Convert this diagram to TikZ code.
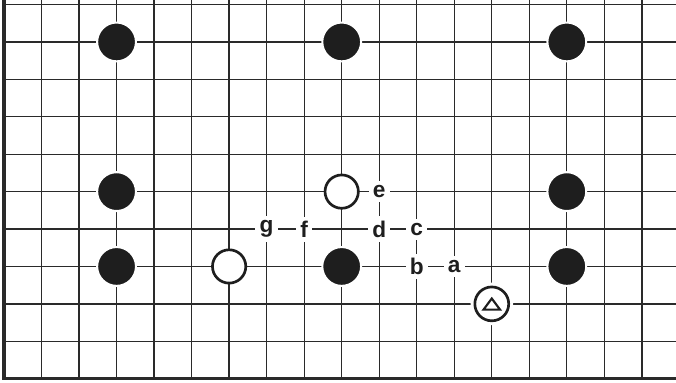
\documentclass[tikz,border=0pt]{standalone}
\usepackage{fontspec}
\setmainfont{Liberation Sans}
\definecolor{ink}{HTML}{2A2A2A}
\definecolor{stonecol}{HTML}{1E1E1E}
\begin{document}
\begin{tikzpicture}[x=28.14pt,y=-28.065pt,
  gridline/.style={draw=ink,line width=0.95pt},
  border/.style={draw=ink,line width=2.3pt,line join=miter},
  bstone/.style={circle,inner sep=0pt,minimum size=29.1pt,fill=stonecol,draw=white,line width=1.5pt},
  wstone/.style={circle,inner sep=0pt,minimum size=25pt,fill=white,draw=stonecol,line width=2pt},
  tstone/.style={circle,inner sep=0pt,minimum size=25.4pt,fill=white,draw=stonecol,line width=2pt,
    preaction={draw=white,line width=6.5pt}},
  lab/.style={fill=white,inner sep=3.2pt,text=stonecol,font=\fontsize{17}{19}\selectfont\bfseries}]
\useasboundingbox (-0.1066,-0.1203) rectangle (17.910,10.088);
\clip (-0.1066,-0.1203) rectangle (17.910,10.088);
\foreach \j in {1,...,17} \draw[gridline] (\j,-0.2) -- (\j,10);
\foreach \k in {0,...,9} \draw[gridline] (0,\k) -- (18,\k);
\draw[border] (0,-0.2) -- (0,10) -- (18,10);
% black stones
\node[bstone] (b31) at (3,1) {};
\node[bstone] (b91) at (9,1) {};
\node[bstone] (b151) at (15,1) {};
\node[bstone] (b35) at (3,5) {};
\node[bstone] (b155) at (15,5) {};
\node[bstone] (b37) at (3,7) {};
\node[bstone] (b97) at (9,7) {};
\node[bstone] (b157) at (15,7) {};
% white stones
\node[wstone] (w95) at (9,5) {};
\node[wstone] (w67) at (6,7) {};
\node[tstone] (t138) at (13,8) {};
\draw[draw=stonecol,line width=1.6pt,line join=miter]
  ([shift={(0pt,4pt)}]t138.center) -- ([shift={(6.2pt,-4.3pt)}]t138.center)
  -- ([shift={(-6.2pt,-4.3pt)}]t138.center) -- cycle;
% labels
\node[lab] (le) at (10,5) {e};
\node[lab] (ld) at (10,6) {d};
\node[lab] (lc) at (11,6) {c};
\node[lab] (lg) at (7,6) {g};
\node[lab] (lf) at (8,6) {f};
\node[lab] (lb) at (11,7) {b};
\node[lab] (la) at (12,7) {a};
\end{tikzpicture}
\end{document}
